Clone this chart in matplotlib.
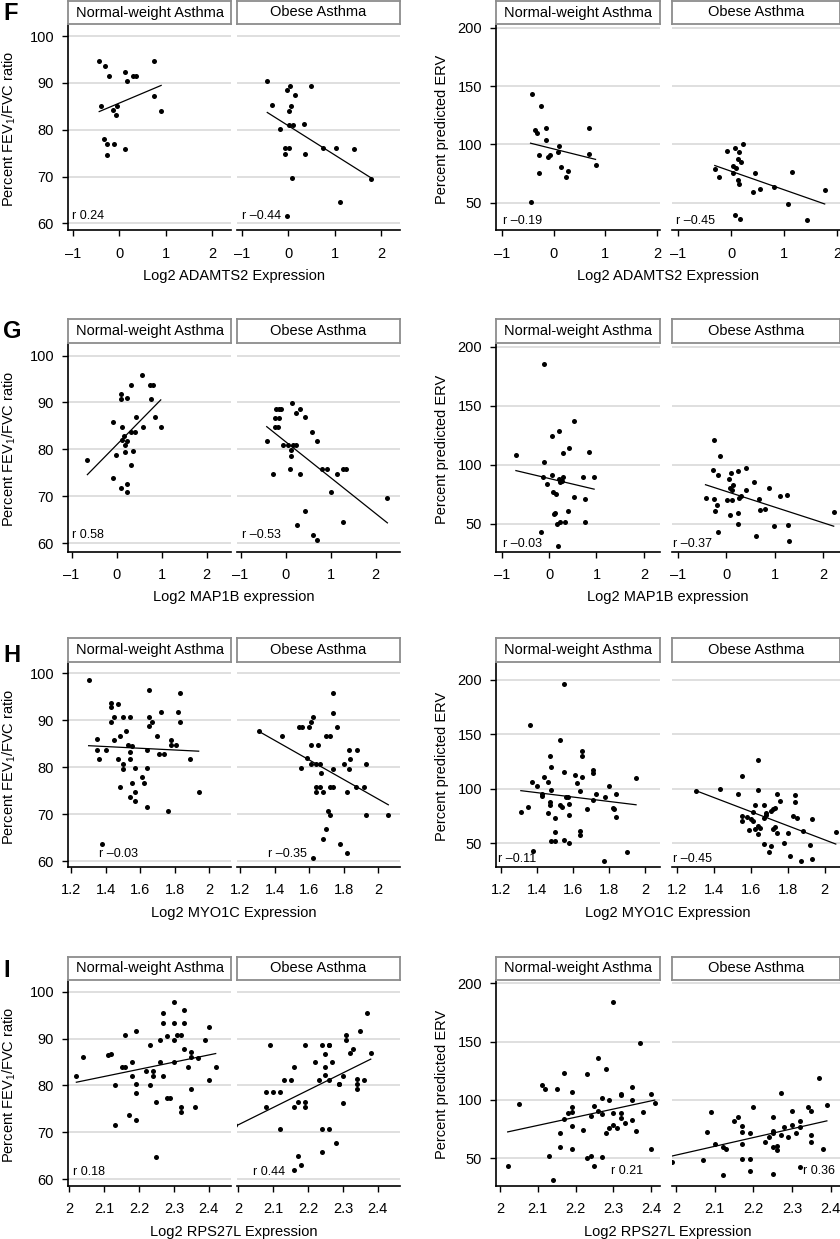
import matplotlib
matplotlib.use('Agg')
import matplotlib.pyplot as plt
import numpy as np

plt.rcParams['font.family'] = ['Liberation Sans', 'DejaVu Sans']
plt.rcParams['mathtext.default'] = 'regular'

groups = ['Normal-weight Asthma', 'Obese Asthma']

# ---- F: ADAMTS2 ----
f_fev_nw_x = [-0.43, -0.30, -0.21, 0.13, 0.17, 0.29, 0.36, 0.74, -0.40, -0.13, -0.04, -0.06, 0.74, 0.90,
              -0.33, -0.26, -0.11, -0.26, 0.13]
f_fev_nw_y = [94.6, 93.5, 91.5, 92.4, 90.5, 91.5, 91.5, 94.6, 85.1, 84.3, 85.1, 83.1, 87.3, 84.1,
              78.1, 77.0, 77.0, 74.7, 75.9]
f_fev_ob_x = [-0.45, -0.35, -0.18, -0.02, 0.04, 0.01, 0.05, 0.14, 0.01, 0.11, 0.49, 0.33, -0.07, 0.01,
              -0.07, 0.37, 0.08, 0.74, 1.02, 1.41, 1.78, 1.12, -0.02]
f_fev_ob_y = [90.5, 85.3, 80.1, 88.4, 89.4, 84.1, 85.1, 87.4, 81.1, 81.1, 89.4, 81.3, 76.1, 76.1,
              74.9, 74.9, 69.7, 76.2, 76.2, 75.9, 69.5, 64.6, 61.6]
f_erv_nw_x = [-0.42, -0.25, -0.37, -0.33, -0.16, 0.69, -0.15, 0.10, 0.09, -0.28, -0.12, -0.07, 0.69, 0.81,
              0.14, 0.28, 0.23, -0.28, -0.45]
f_erv_nw_y = [143.1, 133.1, 112.3, 110.0, 113.7, 113.7, 103.7, 98.3, 93.7, 90.9, 89.4, 91.1, 91.7, 82.6,
              80.3, 77.4, 72.3, 75.7, 50.9]
f_erv_ob_x = [-0.31, -0.23, -0.08, 0.07, 0.15, 0.23, 0.03, 0.10, 0.12, 0.19, 0.04, 0.46, 0.12, 0.15,
              0.42, 0.55, 0.81, 1.15, 1.77, 1.07, 0.08, 0.17, 1.44]
f_erv_ob_y = [78.9, 71.7, 94.3, 97.1, 93.7, 100.3, 81.4, 80.0, 87.7, 84.6, 75.1, 75.1, 69.4, 66.0,
              58.9, 61.7, 63.1, 76.0, 60.9, 49.1, 39.4, 36.3, 34.9]
f_fev_r = [0.24, -0.44]
f_erv_r = [-0.19, -0.45]

# ---- G: MAP1B ----
g_fev_nw_x = [-0.65, -0.09, -0.09, -0.01, 0.09, 0.10, 0.12, 0.11, 0.16, 0.24, 0.24, 0.18, 0.18, 0.31, 0.31,
              0.41, 0.44, 0.36, 0.31, 0.56, 0.74, 0.80, 0.77, 0.59, 0.85, 0.98, 0.09, 0.22, 0.22]
g_fev_nw_y = [77.8, 85.8, 73.8, 78.8, 91.9, 90.8, 84.8, 81.9, 82.9, 90.9, 81.7, 80.9, 79.5, 93.8, 83.6,
              83.6, 86.8, 79.7, 76.7, 95.9, 93.8, 93.8, 90.7, 84.7, 86.8, 84.8, 71.8, 72.7, 70.8]
g_fev_ob_x = [-0.42, -0.28, -0.24, -0.24, -0.21, -0.15, -0.10, -0.16, -0.15, -0.05, 0.06, 0.15, 0.16, 0.24,
              0.12, 0.13, 0.10, 0.22, 0.31, 0.44, 0.33, 0.59, 0.70, 0.81, 0.92, 1.13, 1.27, 1.33, 1.01,
              0.43, 0.26, 0.61, 0.70, 1.27, 2.26]
g_fev_ob_y = [81.8, 74.7, 86.7, 84.7, 88.7, 88.7, 88.7, 84.7, 86.7, 80.9, 80.9, 89.9, 80.9, 80.9,
              79.8, 78.5, 75.9, 87.7, 88.7, 86.8, 74.7, 83.7, 81.8, 75.9, 75.9, 74.7, 75.9, 75.9, 70.8,
              66.9, 63.8, 61.8, 60.6, 64.6, 69.7]
g_erv_nw_x = [-0.70, -0.11, -0.13, -0.04, 0.06, 0.09, 0.14, 0.10, 0.13, 0.16, 0.22, 0.20, 0.22, 0.29, 0.27,
              -0.11, 0.06, 0.21, 0.30, 0.42, 0.53, 0.53, 0.39, 0.34, 0.72, 0.76, 0.85, 0.95, 0.76, -0.18, 0.19]
g_erv_nw_y = [108.3, 102.0, 89.1, 83.4, 91.4, 76.3, 75.4, 58.3, 59.1, 49.7, 51.4, 87.7, 84.9, 89.1, 86.3,
              185.4, 124.3, 128.3, 110.0, 114.0, 137.1, 72.9, 60.6, 51.4, 89.1, 71.1, 110.6, 89.1, 51.1,
              42.6, 31.1]
g_erv_ob_x = [-0.43, -0.28, -0.26, -0.14, -0.18, -0.26, -0.24, -0.19, -0.17, 0.10, 0.23, 0.06, 0.14, 0.08,
              0.12, 0.02, 0.12, 0.08, 0.23, 0.23, 0.26, 0.31, 0.41, 0.40, 0.57, 0.68, 0.70, 0.79, 0.88,
              0.61, 0.99, 1.11, 1.25, 1.26, 1.28, 2.21]
g_erv_ob_y = [72.0, 95.7, 120.6, 107.1, 91.1, 70.6, 60.9, 65.4, 42.6, 92.6, 94.3, 87.7, 82.9, 79.7,
              78.3, 70.0, 70.0, 57.4, 59.1, 49.7, 71.4, 73.4, 96.9, 78.3, 85.4, 71.1, 61.4, 62.6, 79.7,
              39.1, 47.7, 73.4, 74.0, 48.6, 34.9, 59.7]
g_fev_r = [0.58, -0.53]
g_erv_r = [-0.03, -0.37]

# ---- H: MYO1C ----
h_fev_nw_x = [1.30, 1.35, 1.35, 1.36, 1.40, 1.43, 1.43, 1.45, 1.43, 1.47, 1.45, 1.48, 1.47, 1.50, 1.50,
              1.48, 1.50, 1.52, 1.54, 1.53, 1.54, 1.55, 1.54, 1.57, 1.55, 1.54, 1.57, 1.57, 1.64, 1.64,
              1.65, 1.65, 1.65, 1.67, 1.70, 1.72, 1.71, 1.74, 1.61, 1.62, 1.64, 1.78, 1.78, 1.81, 1.82,
              1.83, 1.83, 1.76, 1.89, 1.94, 1.38]
h_fev_nw_y = [98.5, 85.9, 83.7, 81.7, 83.7, 93.7, 92.7, 90.7, 89.7, 93.4, 85.7, 86.6, 81.7, 80.7, 79.5,
              75.8, 90.7, 87.7, 90.7, 84.6, 83.3, 84.5, 81.7, 79.7, 76.6, 73.7, 74.7, 72.7, 83.7, 79.7,
              96.4, 90.7, 88.7, 89.7, 86.6, 91.7, 82.7, 82.7, 77.8, 76.6, 71.6, 85.8, 84.6, 84.6, 91.7,
              89.7, 95.7, 70.6, 81.7, 74.7, 63.6]
h_fev_ob_x = [1.31, 1.44, 1.54, 1.56, 1.55, 1.60, 1.61, 1.62, 1.61, 1.65, 1.59, 1.61, 1.64, 1.66, 1.67,
              1.64, 1.66, 1.64, 1.68, 1.70, 1.72, 1.74, 1.74, 1.76, 1.74, 1.72, 1.74, 1.71, 1.72, 1.70,
              1.68, 1.78, 1.82, 1.62, 1.80, 1.83, 1.83, 1.84, 1.88, 1.82, 1.87, 1.92, 1.93, 1.93, 2.06]
h_fev_ob_y = [87.7, 86.6, 88.6, 88.6, 79.7, 88.6, 89.6, 90.7, 84.7, 84.7, 82.0, 80.7, 80.7, 80.7, 78.7,
              75.8, 75.8, 74.6, 74.6, 86.7, 86.7, 95.7, 91.5, 88.6, 79.6, 75.8, 75.8, 70.6, 69.7, 66.9,
              64.6, 63.7, 61.8, 60.7, 80.7, 79.6, 83.7, 81.7, 83.7, 74.6, 75.8, 75.8, 80.7, 69.7, 69.7]
h_erv_nw_x = [1.31, 1.35, 1.36, 1.37, 1.38, 1.40, 1.43, 1.43, 1.44, 1.46, 1.46, 1.47, 1.47, 1.47, 1.48,
              1.48, 1.48, 1.50, 1.50, 1.50, 1.53, 1.53, 1.54, 1.55, 1.55, 1.56, 1.57, 1.55, 1.58, 1.58,
              1.58, 1.61, 1.62, 1.64, 1.65, 1.65, 1.65, 1.64, 1.64, 1.68, 1.71, 1.71, 1.71, 1.73, 1.78,
              1.80, 1.82, 1.83, 1.84, 1.84, 1.77, 1.90, 1.95]
h_erv_nw_y = [79.1, 83.7, 158.7, 106.6, 42.7, 102.7, 92.9, 95.0, 111.2, 106.0, 77.6, 129.6, 87.4, 85.2,
              119.5, 99.0, 52.5, 52.5, 73.0, 60.1, 144.9, 85.2, 83.7, 115.2, 196.3, 92.3, 92.3, 53.1,
              86.1, 76.3, 50.0, 112.8, 105.1, 97.5, 110.6, 134.2, 129.6, 61.6, 57.7, 81.2, 117.4, 114.9,
              89.8, 95.0, 92.3, 102.7, 82.5, 81.2, 95.0, 74.5, 34.1, 42.4, 109.7]
h_erv_ob_x = [1.30, 1.43, 1.55, 1.53, 1.55, 1.55, 1.58, 1.59, 1.61, 1.60, 1.61, 1.62, 1.62, 1.64, 1.64,
              1.64, 1.64, 1.65, 1.67, 1.67, 1.68, 1.68, 1.67, 1.71, 1.70, 1.71, 1.72, 1.73, 1.74, 1.72,
              1.73, 1.74, 1.76, 1.78, 1.80, 1.81, 1.84, 1.84, 1.83, 1.85, 1.88, 1.87, 1.92, 1.93, 1.93, 2.06]
h_erv_ob_y = [97.5, 100.2, 111.8, 95.0, 75.1, 70.8, 73.9, 62.3, 79.1, 72.1, 70.8, 62.9, 85.2, 99.0, 126.5,
              65.9, 58.6, 63.9, 85.2, 73.0, 76.0, 77.6, 49.4, 47.6, 42.1, 80.0, 81.2, 82.5, 95.0, 62.9,
              64.7, 59.2, 89.2, 50.0, 59.8, 38.4, 94.4, 88.3, 75.4, 73.3, 61.6, 34.1, 48.5, 72.1, 35.9, 60.1]
h_fev_r = [-0.03, -0.35]
h_erv_r = [-0.11, -0.45]

# ---- I: RPS27L ----
i_fev_nw_x = [2.02, 2.04, 2.11, 2.12, 2.13, 2.13, 2.16, 2.15, 2.16, 2.18, 2.18, 2.17, 2.19, 2.19, 2.19,
              2.19, 2.22, 2.23, 2.23, 2.24, 2.24, 2.25, 2.25, 2.26, 2.26, 2.27, 2.27, 2.27, 2.28, 2.28,
              2.29, 2.30, 2.30, 2.30, 2.30, 2.31, 2.32, 2.33, 2.33, 2.33, 2.34, 2.32, 2.32, 2.35, 2.35,
              2.35, 2.36, 2.37, 2.39, 2.40, 2.40, 2.42]
i_fev_nw_y = [82.1, 86.0, 86.6, 86.8, 80.0, 71.5, 90.7, 84.0, 84.0, 82.1, 84.9, 73.6, 91.6, 80.2, 78.4,
              72.6, 83.1, 88.6, 80.1, 82.1, 83.1, 76.4, 64.8, 89.7, 84.9, 82.1, 95.4, 93.4, 90.6, 77.4,
              77.4, 97.9, 93.4, 84.9, 89.8, 90.7, 90.7, 96.2, 87.8, 93.4, 84.0, 75.3, 74.4, 87.1, 86.0,
              79.2, 75.3, 85.9, 89.8, 92.5, 81.2, 84.0]
i_fev_ob_x = [1.99, 2.08, 2.08, 2.09, 2.10, 2.12, 2.12, 2.13, 2.15, 2.16, 2.16, 2.17, 2.19, 2.19, 2.19,
              2.17, 2.16, 2.18, 2.22, 2.23, 2.24, 2.24, 2.24, 2.25, 2.25, 2.25, 2.26, 2.26, 2.26, 2.26,
              2.27, 2.28, 2.29, 2.29, 2.30, 2.30, 2.31, 2.31, 2.32, 2.33, 2.34, 2.34, 2.34, 2.35, 2.36,
              2.37, 2.38]
i_fev_ob_y = [71.6, 78.5, 75.3, 88.6, 78.5, 78.5, 70.7, 81.2, 81.2, 83.9, 75.3, 76.5, 76.5, 75.3, 88.7,
              64.9, 62.0, 63.1, 84.9, 81.2, 88.7, 70.7, 65.7, 86.8, 83.9, 82.2, 70.7, 88.7, 88.7, 81.2,
              84.9, 67.8, 80.2, 80.2, 76.3, 82.1, 90.7, 89.7, 86.9, 87.8, 79.2, 81.3, 80.2, 91.6, 81.2,
              95.4, 86.9]
i_erv_nw_x = [2.02, 2.05, 2.11, 2.12, 2.13, 2.14, 2.15, 2.16, 2.16, 2.17, 2.17, 2.18, 2.19, 2.19, 2.19,
              2.19, 2.19, 2.22, 2.23, 2.23, 2.24, 2.24, 2.25, 2.25, 2.26, 2.26, 2.27, 2.27, 2.28, 2.28,
              2.29, 2.27, 2.30, 2.30, 2.29, 2.30, 2.31, 2.32, 2.32, 2.32, 2.32, 2.33, 2.35, 2.35, 2.35,
              2.36, 2.37, 2.38, 2.40, 2.40, 2.41]
i_erv_nw_y = [43.1, 96.6, 113.1, 109.1, 52.0, 31.1, 109.1, 71.4, 59.7, 123.1, 83.4, 88.6, 107.1, 93.7,
              90.0, 78.0, 57.7, 74.6, 122.3, 50.0, 52.0, 86.6, 95.1, 43.4, 136.0, 90.6, 88.3, 101.4,
              71.4, 126.9, 99.7, 51.1, 89.1, 183.7, 75.7, 78.6, 75.7, 104.3, 105.4, 89.1, 84.6, 80.6,
              111.4, 100.0, 82.9, 73.4, 148.6, 89.7, 105.1, 58.3, 97.7]
i_erv_ob_x = [1.99, 2.07, 2.08, 2.09, 2.10, 2.12, 2.12, 2.13, 2.15, 2.16, 2.17, 2.17, 2.17, 2.17, 2.19,
              2.19, 2.19, 2.20, 2.23, 2.24, 2.25, 2.25, 2.25, 2.25, 2.26, 2.26, 2.27, 2.25, 2.27, 2.28,
              2.29, 2.30, 2.31, 2.30, 2.32, 2.32, 2.32, 2.34, 2.35, 2.35, 2.35, 2.37, 2.38, 2.39]
i_erv_ob_y = [46.9, 48.3, 72.6, 89.7, 62.0, 60.0, 35.7, 58.3, 82.0, 85.1, 72.3, 62.0, 77.7, 49.7, 71.4,
              49.7, 39.1, 94.3, 64.3, 68.0, 85.1, 73.7, 60.0, 71.4, 60.6, 57.1, 105.7, 36.9, 70.0, 77.1,
              68.6, 90.9, 71.4, 78.9, 82.0, 76.6, 42.9, 93.7, 90.3, 70.3, 64.0, 119.1, 58.3, 96.0]
i_fev_r = [0.18, 0.44]
i_erv_r = [0.21, 0.36]

fev_yticks = [60, 70, 80, 90, 100]
erv_yticks = [50, 100, 150, 200]
xticks_expr = [-1, 0, 1, 2]
xticklabels_expr = ['\u20131', '0', '1', '2']
xticks_myo = [1.2, 1.4, 1.6, 1.8, 2.0]
xticklabels_myo = ['1.2', '1.4', '1.6', '1.8', '2']
xticks_rps = [2.0, 2.1, 2.2, 2.3, 2.4]
xticklabels_rps = ['2', '2.1', '2.2', '2.3', '2.4']

fev_ylabel = 'Percent FEV$_1$/FVC ratio'
erv_ylabel = 'Percent predicted ERV'

FIG_W, FIG_H = 840, 1239
GRID = '#d9d9d9'
STRIP_EDGE = '#8c8c8c'

fig = plt.figure(figsize=(FIG_W / 100, FIG_H / 100), dpi=100)


def add_px_axes(x0, x1, y0, y1):
    return fig.add_axes([x0 / FIG_W, 1 - y1 / FIG_H, (x1 - x0) / FIG_W, (y1 - y0) / FIG_H])


def fmt_r(v):
    return 'r ' + ('\u2013' if v < 0 else '') + f'{abs(v):.2f}'


def draw_facets(cols, rows, series, rvals, rpos, xlim, ylim, xticks, xticklabels, yticks,
                xlabel, ylabel, ylabel_x):
    strip_top, top, bottom = rows
    for i in range(2):
        x0, x1 = cols[i]
        xs = np.asarray(series[i][0])
        ys = np.asarray(series[i][1])
        ax = add_px_axes(x0, x1, top, bottom)
        ax.set_xlim(*xlim)
        ax.set_ylim(*ylim)
        ax.set_yticks(yticks)
        ax.set_xticks(xticks, xticklabels)
        ax.yaxis.grid(True, color=GRID, lw=1.2)
        ax.set_axisbelow(True)
        ax.scatter(xs, ys, s=13, color='black', linewidths=0, zorder=3)
        slope, icpt = np.polyfit(xs, ys, 1)
        xx = np.array([xs.min(), xs.max()])
        ax.plot(xx, slope * xx + icpt, color='black', lw=0.9, zorder=2)
        ax.text(rpos[i][0], rpos[i][1], fmt_r(rvals[i]), transform=ax.transAxes,
                fontsize=9, va='center', ha='left')
        ax.spines['top'].set_visible(False)
        ax.spines['right'].set_visible(False)
        ax.spines['bottom'].set_linewidth(1.2)
        ax.tick_params(axis='x', length=4, width=1, pad=8, labelsize=10.5)
        if i == 0:
            ax.spines['left'].set_linewidth(1.2)
            ax.tick_params(axis='y', length=4, width=1, pad=6, labelsize=10.5)
        else:
            ax.spines['left'].set_visible(False)
            ax.tick_params(axis='y', left=False, labelleft=False)

        sx = add_px_axes(x0, x1, strip_top, top)
        sx.set_xticks([])
        sx.set_yticks([])
        for sp in sx.spines.values():
            sp.set_edgecolor(STRIP_EDGE)
            sp.set_linewidth(1.3)
        sx.text(0.5, 0.5, groups[i], ha='center', va='center', fontsize=10.5,
                transform=sx.transAxes)

    fig.text(((cols[0][0] + cols[1][1]) / 2) / FIG_W, 1 - (bottom + 46) / FIG_H, xlabel,
             ha='center', va='center', fontsize=10.5)
    fig.text(ylabel_x / FIG_W, 1 - ((top + bottom) / 2 + 2) / FIG_H, ylabel,
             ha='center', va='center', rotation=90, fontsize=10.5)


fev_cols = [(68, 231), (237, 400)]
erv_cols = [(496, 660), (672, 840)]

rows_f = (0.7, 24.3, 230)
rows_g = (319, 342.5, 551.5)
rows_h = (638.3, 662.3, 866.7)
rows_i = (956.7, 980, 1185.7)

# F
draw_facets(fev_cols, rows_f, [(f_fev_nw_x, f_fev_nw_y), (f_fev_ob_x, f_fev_ob_y)], f_fev_r,
            [(0.025, 0.068), (0.03, 0.068)], (-1.1, 2.4), (58.6, 102.5), xticks_expr,
            xticklabels_expr, fev_yticks, 'Log2 ADAMTS2 Expression', fev_ylabel, 9)
draw_facets(erv_cols, rows_f, [(f_erv_nw_x, f_erv_nw_y), (f_erv_ob_x, f_erv_ob_y)], f_erv_r,
            [(0.04, 0.045), (0.025, 0.045)], (-1.12, 2.06), (26.6, 203), xticks_expr,
            xticklabels_expr, erv_yticks, 'Log2 ADAMTS2 Expression', erv_ylabel, 442)

# G
draw_facets(fev_cols, rows_g, [(g_fev_nw_x, g_fev_nw_y), (g_fev_ob_x, g_fev_ob_y)], g_fev_r,
            [(0.025, 0.08), (0.03, 0.08)], (-1.08, 2.54), (58.2, 102.8), xticks_expr,
            xticklabels_expr, fev_yticks, 'Log2 MAP1B expression', fev_ylabel, 9)
draw_facets(erv_cols, rows_g, [(g_erv_nw_x, g_erv_nw_y), (g_erv_ob_x, g_erv_ob_y)], g_erv_r,
            [(0.04, 0.037), (0.005, 0.037)], (-1.12, 2.34), (26.3, 203.4), xticks_expr,
            xticklabels_expr, erv_yticks, 'Log2 MAP1B expression', erv_ylabel, 442)

# H
draw_facets(fev_cols, rows_h, [(h_fev_nw_x, h_fev_nw_y), (h_fev_ob_x, h_fev_ob_y)], h_fev_r,
            [(0.19, 0.06), (0.19, 0.06)], (1.18, 2.128), (58.8, 102.3), xticks_myo,
            xticklabels_myo, fev_yticks, 'Log2 MYO1C Expression', fev_ylabel, 9)
draw_facets(erv_cols, rows_h, [(h_erv_nw_x, h_erv_nw_y), (h_erv_ob_x, h_erv_ob_y)], h_erv_r,
            [(0.01, 0.036), (0.005, 0.036)], (1.172, 2.083), (28.5, 216), xticks_myo,
            xticklabels_myo, erv_yticks, 'Log2 MYO1C Expression', erv_ylabel, 442)

# I
draw_facets(fev_cols, rows_i, [(i_fev_nw_x, i_fev_nw_y), (i_fev_ob_x, i_fev_ob_y)], i_fev_r,
            [(0.028, 0.068), (0.1, 0.068)], (1.996, 2.464), (58.6, 102.5), xticks_rps,
            xticklabels_rps, fev_yticks, 'Log2 RPS27L Expression', fev_ylabel, 9)
draw_facets(erv_cols, rows_i, [(i_erv_nw_x, i_erv_nw_y), (i_erv_ob_x, i_erv_ob_y)], i_erv_r,
            [(0.70, 0.073), (0.78, 0.073)], (1.989, 2.424), (26.5, 202.9), xticks_rps,
            xticklabels_rps, erv_yticks, 'Log2 RPS27L Expression', erv_ylabel, 442)

# panel letters
for letter, ytop in [('F', 2), ('G', 320), ('H', 644), ('I', 959)]:
    fig.text(3 / FIG_W, 1 - ytop / FIG_H, letter, fontsize=17, fontweight='bold',
             ha='left', va='top')

fig.savefig('out.png', dpi=100)
